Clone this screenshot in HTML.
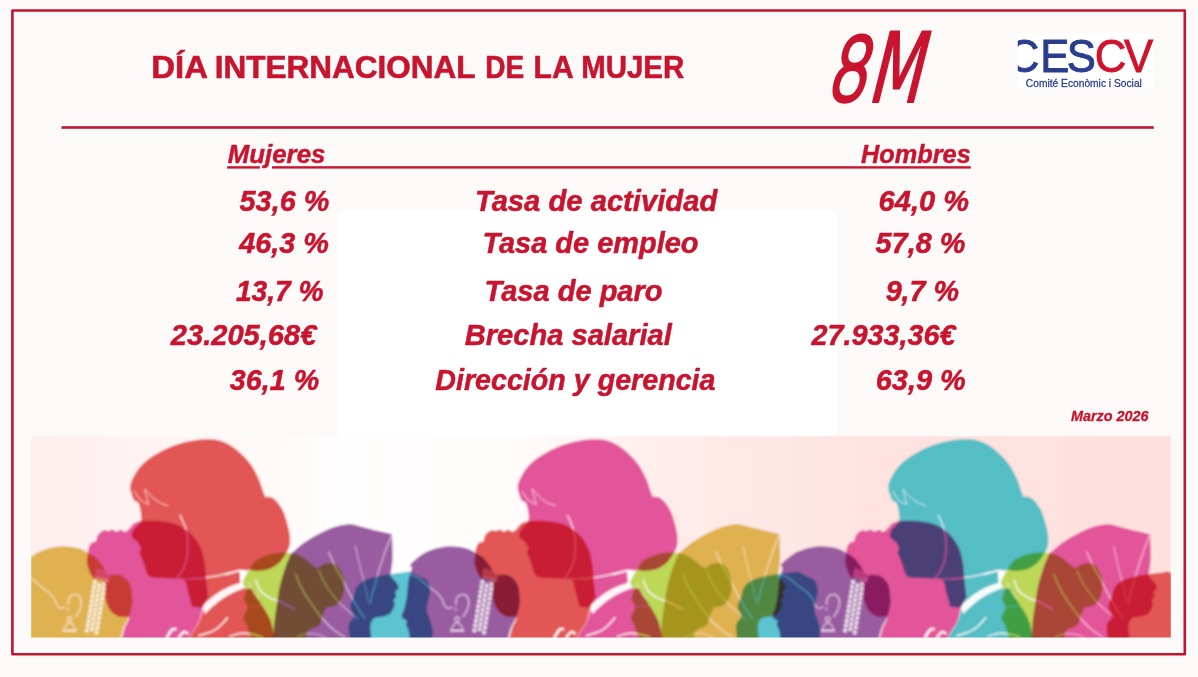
<!DOCTYPE html>
<html lang="es">
<head>
<meta charset="utf-8">
<title>Día Internacional de la Mujer - 8M</title>
<style>
html,body{margin:0;padding:0;background:#fbfaf8;}
body{width:1198px;height:677px;overflow:hidden;}
svg{display:block;}
text{font-family:"Liberation Sans",sans-serif;}
.m{mix-blend-mode:multiply;}
.w{fill:none;stroke:#fff;stroke-linecap:round;stroke-linejoin:round;}
</style>
</head>
<body>
<svg width="1198" height="677" viewBox="0 0 1198 677">
<defs>
<linearGradient id="bgg" gradientUnits="userSpaceOnUse" x1="31.2" y1="0" x2="1170.8" y2="0">
<stop offset="0" stop-color="#ffeeee"/>
<stop offset="0.085" stop-color="#fef2f2"/>
<stop offset="0.218" stop-color="#fffaf9"/>
<stop offset="0.27" stop-color="#fffefe"/>
<stop offset="0.41" stop-color="#fffdfc"/>
<stop offset="0.5" stop-color="#fff4f2"/>
<stop offset="0.56" stop-color="#ffecea"/>
<stop offset="0.675" stop-color="#fee6e3"/>
<stop offset="0.76" stop-color="#fee2e0"/>
<stop offset="1" stop-color="#fee1de"/>
</linearGradient>
<filter id="soft" x="-2%" y="-5%" width="104%" height="110%"><feGaussianBlur stdDeviation="0.85"/></filter>
<clipPath id="ic"><rect x="31.2" y="436.2" width="1139.6" height="201.4"/></clipPath>
</defs>
<rect width="1198" height="677" fill="#fbfaf8"/>
<rect x="337" y="210.5" width="500.3" height="228" rx="7" fill="#ffffff"/>
<rect x="12.4" y="10.5" width="1172.4" height="643.8" fill="none" stroke="#be1733" stroke-width="2.6" stroke-linejoin="round"/>
<rect x="61.5" y="126.2" width="1092.3" height="2.6" fill="#be1733"/>
<rect x="227.2" y="166.2" width="32.6" height="2.4" fill="#c8142f"/><rect x="272" y="166.2" width="698.8" height="2.4" fill="#c8142f"/>
<text y="78.2" font-size="32" font-weight="700" font-style="normal" fill="#c8142f" stroke="#c8142f" stroke-width="0.6" stroke-linejoin="round" xml:space="preserve"><tspan x="151.26" textLength="55.51" lengthAdjust="spacingAndGlyphs">DÍA</tspan> <tspan x="214.71" textLength="260.25" lengthAdjust="spacingAndGlyphs">INTERNACIONAL</tspan> <tspan x="485.24" textLength="38.91" lengthAdjust="spacingAndGlyphs">DE</tspan> <tspan x="533.56" textLength="38.97" lengthAdjust="spacingAndGlyphs">LA</tspan> <tspan x="581.14" textLength="103.06" lengthAdjust="spacingAndGlyphs">MUJER</tspan></text>
<text transform="translate(227.73 163.20) scale(0.9946 1)" font-size="26" font-weight="700" font-style="italic" fill="#c8142f" stroke="#c8142f" stroke-width="0.45" stroke-linejoin="round">Mujeres</text>
<text transform="translate(861.04 163.20) scale(0.9737 1)" font-size="26" font-weight="700" font-style="italic" fill="#c8142f" stroke="#c8142f" stroke-width="0.45" stroke-linejoin="round">Hombres</text>
<text transform="translate(239.61 210.60) scale(0.9602 1)" font-size="30" font-weight="700" font-style="italic" fill="#c8142f" stroke="#c8142f" stroke-width="0.5" stroke-linejoin="round">53,6 %</text>
<text transform="translate(474.88 210.60) scale(0.9738 1)" font-size="30" font-weight="700" font-style="italic" fill="#c8142f" stroke="#c8142f" stroke-width="0.5" stroke-linejoin="round">Tasa de actividad</text>
<text transform="translate(878.62 210.60) scale(0.9677 1)" font-size="30" font-weight="700" font-style="italic" fill="#c8142f" stroke="#c8142f" stroke-width="0.5" stroke-linejoin="round">64,0 %</text>
<text transform="translate(239.13 252.60) scale(0.9600 1)" font-size="30" font-weight="700" font-style="italic" fill="#c8142f" stroke="#c8142f" stroke-width="0.5" stroke-linejoin="round">46,3 %</text>
<text transform="translate(482.40 252.60) scale(0.9657 1)" font-size="30" font-weight="700" font-style="italic" fill="#c8142f" stroke="#c8142f" stroke-width="0.5" stroke-linejoin="round">Tasa de empleo</text>
<text transform="translate(875.51 252.60) scale(0.9635 1)" font-size="30" font-weight="700" font-style="italic" fill="#c8142f" stroke="#c8142f" stroke-width="0.5" stroke-linejoin="round">57,8 %</text>
<text transform="translate(235.88 300.70) scale(0.9400 1)" font-size="30" font-weight="700" font-style="italic" fill="#c8142f" stroke="#c8142f" stroke-width="0.5" stroke-linejoin="round">13,7 %</text>
<text transform="translate(484.49 300.70) scale(0.9686 1)" font-size="30" font-weight="700" font-style="italic" fill="#c8142f" stroke="#c8142f" stroke-width="0.5" stroke-linejoin="round">Tasa de paro</text>
<text transform="translate(885.63 300.70) scale(0.9584 1)" font-size="30" font-weight="700" font-style="italic" fill="#c8142f" stroke="#c8142f" stroke-width="0.5" stroke-linejoin="round">9,7 %</text>
<text transform="translate(170.83 344.90) scale(0.9694 1)" font-size="30" font-weight="700" font-style="italic" fill="#c8142f" stroke="#c8142f" stroke-width="0.5" stroke-linejoin="round">23.205,68€</text>
<text transform="translate(464.66 344.90) scale(0.9710 1)" font-size="30" font-weight="700" font-style="italic" fill="#c8142f" stroke="#c8142f" stroke-width="0.5" stroke-linejoin="round">Brecha salarial</text>
<text transform="translate(811.43 344.90) scale(0.9608 1)" font-size="30" font-weight="700" font-style="italic" fill="#c8142f" stroke="#c8142f" stroke-width="0.5" stroke-linejoin="round">27.933,36€</text>
<text transform="translate(229.81 390.20) scale(0.9570 1)" font-size="30" font-weight="700" font-style="italic" fill="#c8142f" stroke="#c8142f" stroke-width="0.5" stroke-linejoin="round">36,1 %</text>
<text transform="translate(435.27 390.20) scale(0.9551 1)" font-size="30" font-weight="700" font-style="italic" fill="#c8142f" stroke="#c8142f" stroke-width="0.5" stroke-linejoin="round">Dirección y gerencia</text>
<text transform="translate(875.72 390.20) scale(0.9644 1)" font-size="30" font-weight="700" font-style="italic" fill="#c8142f" stroke="#c8142f" stroke-width="0.5" stroke-linejoin="round">63,9 %</text>
<text transform="translate(1070.91 420.80) scale(0.9600 1)" font-size="15" font-weight="700" font-style="italic" fill="#c8142f" stroke="#c8142f" stroke-width="0.3" stroke-linejoin="round">Marzo 2026</text>
<text transform="translate(824.5 102.5) skewX(-14) scale(0.70 1)" stroke-linejoin="round" fill="#c8142f" stroke="#c8142f"><tspan font-family="&quot;DejaVu Sans&quot;, sans-serif" font-weight="200" font-size="86.5" stroke-width="4.9" dy="-2.2" textLength="58.2" lengthAdjust="spacingAndGlyphs">8</tspan><tspan font-family="&quot;DejaVu Sans Condensed&quot;, &quot;DejaVu Sans&quot;, sans-serif" font-weight="400" font-size="96.8" stroke-width="1.9" dx="1.8" dy="1.3">M</tspan></text>
<g>
<rect x="1017.8" y="33.5" width="136.4" height="54.2" fill="#ffffff"/>
<svg x="1017.8" y="33.5" width="136.4" height="54.2" viewBox="1017.8 33.5 136.4 54.2" overflow="hidden">
<text transform="scale(0.93 1)" y="72.0" font-size="47" font-weight="400" stroke-width="0.9"><tspan x="1083.70 1118.65 1147.18" fill="#2a3c8c" stroke="#2a3c8c">CES</tspan><tspan x="1177.14 1208.73" fill="#d0132c" stroke="#d0132c">CV</tspan></text>
<text transform="translate(1025.80 86.70) scale(0.9943 1)" font-size="10.3" font-weight="400" font-style="normal" fill="#2a3c8c" stroke="#2a3c8c" stroke-width="0.25">Comité Econòmic i Social</text>
</svg>
</g>
<g clip-path="url(#ic)">
<g filter="url(#soft)">
<defs>
<g id="sA"><path d="M22.6 642.0C22.3 640.0 21.7 633.0 21.0 630.2C20.3 627.4 18.8 626.7 18.5 625.2C18.2 623.7 20.0 622.4 19.3 621.0C18.6 619.6 14.7 618.9 14.3 616.8C13.9 614.7 16.0 611.8 16.8 608.5C17.6 605.2 18.6 601.5 19.3 596.8C20.0 592.1 20.2 584.8 21.0 580.1C21.8 575.4 24.0 570.9 24.3 568.4C24.6 565.9 21.8 566.7 22.6 565.0C23.4 563.3 26.5 560.6 29.3 558.4C32.1 556.2 35.4 553.5 39.3 551.7C43.2 549.9 48.2 548.4 52.7 547.5C57.2 546.6 61.5 546.2 66.0 546.4C70.5 546.5 75.6 547.2 79.4 548.4C83.2 549.6 86.2 551.8 89.0 553.4C91.8 555.0 93.8 555.8 95.9 557.7C98.0 559.7 99.8 562.4 101.8 565.1C103.8 567.8 104.5 572.3 107.7 574.0C110.9 575.7 117.3 573.7 121.0 575.4C124.7 577.1 128.0 580.3 129.9 584.3C131.8 588.2 132.0 595.1 132.3 599.1C132.6 603.1 132.1 604.9 131.5 608.0C130.9 611.1 129.8 614.5 128.5 617.8C127.2 621.1 124.9 623.8 123.4 627.8C121.9 631.8 120.3 639.6 119.7 642.0Z"/><path class="w" d="M21.5 573.8C22.4 574.2 25.2 575.1 27.0 576.0C28.8 576.9 30.8 577.9 32.5 579.2C34.2 580.5 35.8 582.3 37.5 583.8C39.2 585.3 41.0 586.5 43.0 588.0C45.0 589.5 47.4 590.9 49.3 592.7C51.2 594.5 53.1 596.8 54.4 598.9C55.7 601.0 55.9 603.6 56.9 605.2C57.9 606.8 59.2 608.1 60.6 608.4C62.0 608.7 64.3 607.3 65.0 607.1" stroke-width="1.3" stroke-opacity="0.6"/><path class="w" d="M68.4 604.2C68.6 603.1 68.4 599.3 69.4 597.7C70.4 596.1 72.8 594.8 74.5 594.6C76.2 594.4 78.3 595.0 79.5 596.4C80.7 597.8 81.4 600.4 81.4 602.7C81.4 605.0 80.5 607.9 79.5 610.2C78.5 612.5 76.3 615.5 75.7 616.5" stroke-width="1.5" stroke-opacity="0.6"/><path class="w" d="M68.2 608.2L68.4 610" stroke-width="1.5" stroke-opacity="0.6"/><circle class="w" cx="69.6" cy="619.3" r="2.3" stroke-width="1.3" stroke-opacity="0.6"/><path class="w" d="M69.6 622.4C66.5 624 64.6 627 63.8 630.4H75.6C74.8 627 72.8 624 69.6 622.4Z" stroke-width="1.3" stroke-opacity="0.6"/><path class="w" d="M63.4 630.8H76" stroke-width="2.0" stroke-opacity="0.6"/><path fill="#fff" fill-opacity="0.5" d="M96.5 567.5L111 574.5L109.5 582L94.5 577Z"/><path class="w" d="M94.8 582L86.8 631.5" stroke-width="4.4" stroke-opacity="0.78" stroke-dasharray="0.1 4.8"/><path class="w" d="M99.6 583L91.6 632.5" stroke-width="4.4" stroke-opacity="0.78" stroke-dasharray="0.1 4.8" stroke-dashoffset="2.4"/><path class="w" d="M104.4 584L96.4 633.5" stroke-width="4.4" stroke-opacity="0.78" stroke-dasharray="0.1 4.8"/></g>
<g id="sB"><path d="M121.0 642.0C121.6 639.8 123.2 632.7 124.5 628.6C125.8 624.5 129.8 619.5 129.0 617.5C128.2 615.5 122.5 617.9 119.5 616.8C116.5 615.7 113.0 613.8 110.7 610.9C108.4 608.0 106.5 603.8 105.5 599.1C104.5 594.4 106.6 586.1 104.8 582.8C103.0 579.5 96.9 580.8 94.4 579.1C91.9 577.4 91.2 575.1 90.0 572.5C88.8 569.9 87.4 566.6 87.0 563.6C86.6 560.6 87.3 557.4 87.6 554.8C87.9 552.2 88.0 550.0 88.6 548.0C89.2 546.0 90.1 544.0 91.3 542.9C92.5 541.8 94.8 542.3 95.8 541.2C96.8 540.1 96.4 537.7 97.2 536.2C98.0 534.7 99.3 533.2 100.5 532.2C101.7 531.2 103.2 530.5 104.5 530.3C105.8 530.1 107.2 531.1 108.5 531.0C109.8 530.9 110.7 529.3 112.0 529.4C113.3 529.5 114.8 531.5 116.2 531.6C117.6 531.7 119.2 529.8 120.6 529.8C122.0 529.8 123.6 531.8 124.8 531.8C126.0 531.8 127.0 530.8 128.0 530.0C128.9 529.2 129.5 528.3 130.5 527.2C131.5 526.1 132.2 524.4 134.0 523.4C135.8 522.4 138.3 521.6 141.0 521.2C143.7 520.8 146.4 520.8 150.0 520.8C153.6 520.8 158.5 520.9 162.7 521.4C166.9 521.9 171.4 522.7 175.2 524.0C178.9 525.3 182.3 527.2 185.2 529.2C188.1 531.2 190.7 533.7 192.8 536.0C194.9 538.3 196.3 540.4 197.8 542.8C199.3 545.2 200.6 547.4 201.6 550.3C202.6 553.2 203.4 556.7 204.1 560.0C204.8 563.3 205.1 566.2 205.5 570.0C205.9 573.8 206.0 578.5 206.5 583.0C207.0 587.5 208.0 594.7 208.3 597.0L208.3 597.0C207.4 598.7 204.6 603.2 203.0 607.3C201.4 611.4 200.7 617.4 199.0 621.4C197.3 625.4 195.0 627.6 193.0 631.0C191.0 634.4 188.0 640.2 187.0 642.0Z"/><path class="w" d="M96 578.5L108.5 581.5" stroke-width="3.4" stroke-opacity="0.5" stroke-dasharray="0.1 3.4"/><path class="w" d="M167.2 637.0C168.0 635.8 170.5 631.0 171.9 629.7C173.3 628.4 174.8 629.2 175.4 629.1" stroke-width="2.6" stroke-opacity="0.95"/><path class="w" d="M179.0 637.0C179.8 636.2 182.3 632.6 183.7 632.0C185.1 631.4 186.7 633.1 187.3 633.3" stroke-width="2.4" stroke-opacity="0.95"/></g>
<g id="sC"><path d="M134.3 501.0C133.9 500.0 132.5 497.5 131.8 495.1C131.1 492.7 130.0 489.6 130.2 486.8C130.3 484.0 131.0 481.8 132.7 478.4C134.4 475.0 137.0 470.3 140.2 466.7C143.4 463.1 147.4 459.8 151.9 456.7C156.4 453.6 161.6 450.8 166.9 448.4C172.2 446.0 178.0 444.0 183.6 442.5C189.2 441.0 195.1 440.0 200.3 439.5C205.5 439.0 210.9 439.0 215.0 439.5C219.1 440.0 221.7 441.0 225.0 442.5C228.3 444.0 231.7 445.9 235.0 448.4C238.3 450.9 241.9 454.2 245.0 457.5C248.1 460.8 251.0 464.6 253.4 468.4C255.8 472.2 257.7 476.5 259.2 480.1C260.7 483.7 261.6 487.3 262.6 490.1C263.6 492.9 264.7 495.7 265.1 496.8L265.1 496.8C266.2 496.9 269.6 496.5 271.8 497.6C274.0 498.7 276.4 501.1 278.4 503.5C280.3 505.9 282.1 508.8 283.5 511.8C284.9 514.9 285.8 518.5 286.8 521.8C287.8 525.1 288.8 528.8 289.3 531.8C289.9 534.8 290.1 537.5 290.1 540.0C290.1 542.5 290.1 544.2 289.3 546.7C288.5 549.2 286.9 552.2 285.1 555.0C283.3 557.8 281.2 561.0 278.4 563.4C275.6 565.8 272.0 568.0 268.4 569.2C264.8 570.5 260.0 570.9 256.7 570.9C253.4 570.9 249.8 569.5 248.4 569.2L248.4 569.2C249.0 572.4 250.2 583.3 251.9 588.4C253.6 593.5 255.5 594.7 258.6 600.0C261.7 605.3 267.5 613.0 270.3 620.0C273.1 627.0 274.5 638.3 275.3 642.0L187.5 642.0C188.5 640.2 191.5 634.4 193.5 631.0C195.5 627.6 197.8 625.3 199.5 621.4C201.2 617.5 202.8 609.8 203.5 607.5L192.3 607.0C191.6 604.5 189.2 596.3 188.0 592.0C186.8 587.7 186.6 583.2 185.0 581.0C183.4 578.8 179.5 579.2 178.4 578.8L178.4 578.8C174.2 578.6 158.2 578.5 153.0 577.6C147.8 576.7 148.6 575.5 147.2 573.6C145.8 571.7 145.5 568.5 144.6 566.0C143.7 563.5 142.8 560.7 142.0 558.5C141.2 556.3 139.8 554.8 139.6 553.0C139.4 551.2 141.0 549.7 140.8 548.0C140.6 546.3 139.4 544.4 138.3 543.0C137.2 541.6 135.6 540.7 134.5 539.6C133.4 538.5 132.1 538.0 131.8 536.5C131.6 535.0 131.7 532.8 133.0 530.5C134.3 528.2 138.4 524.9 139.8 522.5C141.2 520.1 141.4 519.2 141.2 516.0C141.0 512.8 139.8 506.0 138.6 503.5C137.4 501.0 135.0 501.4 134.3 501.0Z"/><path class="w" d="M134.6 491.5L140.1 500.1L148.6 504.3L144.7 489.2L153.9 498.8Q160 503.6 167.7 505.8" stroke-width="0.8" stroke-opacity="0.85" stroke-linejoin="miter"/><path class="w" d="M180.2 515.2C180.8 516.7 182.9 521.3 184.0 524.0C185.1 526.7 185.9 528.8 186.5 531.5C187.1 534.2 187.6 537.2 187.8 540.3C188.0 543.4 188.0 547.0 187.8 550.3C187.6 553.6 187.3 556.8 186.5 560.0C185.7 563.2 184.6 566.4 183.0 569.5C181.4 572.6 177.8 577.1 176.8 578.6" stroke-width="1.3" stroke-opacity="0.8"/><path class="w" d="M178.0 579.3C180.0 579.2 186.2 579.2 190.0 579.0C193.8 578.8 196.1 578.9 201.0 578.3C205.9 577.7 214.7 576.2 219.5 575.3C224.3 574.4 228.2 573.4 230.0 573.0" stroke-width="1.2" stroke-opacity="0.9"/><path class="w" d="M226.0 574.0C227.2 573.7 230.8 572.9 233.0 572.3C235.2 571.7 238.4 570.9 239.5 570.6" stroke-width="1.9" stroke-opacity="0.95"/><path fill="#fff" fill-opacity="0.95" d="M201.8 606.8C208 599.8 216 593.6 223.2 589.7C230 586.1 236 583.9 242 582.2L243.5 588.6C237 590.6 230 594 223.5 598C216.5 602.5 210 608.5 205.2 614Z"/><path fill="#fff" d="M239.5 569.8L252.6 571L253 588.6L246 588.8L240.5 586Z"/><path class="w" d="M199.0 635.6C201.4 634.8 209.6 632.7 213.3 630.9C217.0 629.1 218.7 627.2 221.0 625.0C223.3 622.8 226.3 619.1 227.4 617.9" stroke-width="1.6" stroke-opacity="0.9"/><path class="w" d="M229.8 636.4C231.8 635.9 237.7 633.6 241.6 633.3C245.5 633.0 250.0 633.8 253.4 634.4C256.8 635.0 260.6 636.6 262.0 637.0" stroke-width="1.5" stroke-opacity="0.9"/></g>
<g id="sE"><path d="M252.2 642.0C251.6 640.1 249.7 633.9 248.7 630.9C247.7 627.9 247.2 626.0 246.3 623.8C245.4 621.6 243.2 620.6 243.4 617.9C243.6 615.1 247.4 610.4 247.5 607.3C247.6 604.1 244.2 602.0 244.0 599.0C243.8 596.0 246.5 592.3 246.3 589.5C246.1 586.7 242.2 585.5 242.8 582.0C243.4 578.5 247.8 572.1 250.1 568.4C252.4 564.7 253.4 562.4 256.7 560.0C260.0 557.6 265.9 555.5 270.1 554.2C274.3 553.0 278.5 552.7 281.8 552.5C285.1 552.3 287.2 552.6 290.0 553.0C292.8 553.4 296.1 554.1 298.5 555.0C300.9 555.9 302.7 557.3 304.6 558.6C306.5 559.9 308.1 561.5 310.0 563.0C311.9 564.5 314.1 566.7 315.7 567.4C317.3 568.1 318.9 567.2 319.5 567.2L319.5 567.2C320.0 566.8 321.2 565.4 322.5 564.8C323.8 564.1 325.4 563.5 327.0 563.3C328.6 563.0 330.1 562.9 331.8 563.3C333.5 563.7 335.5 564.2 337.0 565.5C338.5 566.8 339.9 568.9 341.0 571.0C342.1 573.1 343.0 575.6 343.5 578.4C344.0 581.2 344.4 585.1 344.2 588.0C344.0 590.9 343.5 593.5 342.5 596.0C341.5 598.5 340.1 601.5 338.4 603.2C336.7 605.0 334.5 605.8 332.5 606.5C330.5 607.2 327.4 607.1 326.4 607.2L326.4 607.2C326.0 608.1 324.6 610.5 323.8 612.5C323.0 614.5 322.2 617.0 321.5 619.0C320.8 621.0 320.9 623.1 319.8 624.5C318.7 625.9 316.3 626.8 315.0 627.5C313.7 628.2 313.1 627.8 311.8 628.5C310.6 629.2 308.6 629.8 307.5 632.0C306.4 634.2 305.6 640.3 305.2 642.0Z"/><path class="w" d="M246.6 607.5C247.8 607.3 251.5 606.5 254.0 606.3C256.5 606.1 260.4 606.1 261.7 606.1" stroke-width="1.1" stroke-opacity="0.55"/><path class="w" d="M255.8 580.1C256.6 581.9 258.1 587.8 260.5 590.7C262.9 593.7 266.6 595.9 270.0 597.8C273.4 599.7 276.9 600.1 281.0 602.0C285.1 603.9 292.3 608.0 294.6 609.2" stroke-width="1.5" stroke-opacity="0.85"/><path class="w" d="M249.0 583.0C249.7 584.5 251.4 589.4 253.0 592.0C254.6 594.6 257.6 597.4 258.5 598.5" stroke-width="1.2" stroke-opacity="0.6"/></g>
<g id="sF"><path d="M273.4 642.0C273.5 638.9 273.7 629.6 274.3 623.5C274.9 617.4 275.8 611.5 276.8 605.1C277.8 598.7 278.7 591.2 280.1 585.1C281.5 579.0 283.4 573.4 285.1 568.4C286.8 563.4 288.8 558.0 290.5 555.0C292.2 552.0 292.9 552.2 295.1 550.2C297.4 548.2 300.1 545.5 304.0 542.8C307.9 540.1 313.8 536.6 318.7 534.0C323.6 531.4 329.4 528.8 333.5 527.3C337.6 525.8 340.1 525.5 343.0 525.0C345.9 524.5 347.5 523.8 351.2 524.3C354.9 524.8 360.2 526.5 365.3 527.7C370.4 529.0 377.4 530.7 381.9 531.8C386.3 532.9 390.3 533.9 392.0 534.3L392.0 534.3C392.1 536.4 392.3 542.6 392.4 546.7C392.5 550.8 392.7 555.1 392.5 559.0C392.3 562.9 391.7 567.3 391.3 570.0C390.9 572.7 390.1 573.6 390.3 575.0C390.5 576.4 391.5 577.2 392.6 578.6C393.7 580.0 396.0 581.8 397.0 583.4C398.0 585.0 398.9 587.0 398.6 588.4C398.3 589.8 395.7 590.4 395.3 591.8C394.9 593.2 396.4 595.4 396.1 596.8C395.8 598.2 393.9 598.7 393.6 600.1C393.3 601.5 395.1 602.9 394.5 605.1C393.9 607.3 392.4 611.5 390.3 613.5C388.2 615.5 384.7 616.0 381.9 616.8C379.1 617.6 375.5 616.8 373.6 618.5C371.7 620.2 370.6 622.9 370.3 626.8C370.0 630.7 371.6 639.5 371.9 642.0Z"/><path class="w" d="M328.7 552.0C329.8 554.5 332.9 562.1 335.2 566.7C337.5 571.3 340.1 575.1 342.6 579.7C345.1 584.3 347.5 589.8 350.0 594.4C352.5 599.0 354.9 603.4 357.4 607.4C359.9 611.4 363.6 616.6 364.8 618.5" stroke-width="1.2" stroke-opacity="0.62"/><path class="w" d="M355.5 546.4C356.1 549.2 358.0 557.8 359.2 563.0C360.4 568.2 361.8 573.5 362.9 577.8C364.0 582.1 364.8 584.9 365.7 588.9C366.6 592.9 368.0 599.6 368.5 601.8" stroke-width="1.1" stroke-opacity="0.5"/><path class="w" d="M391.5 535.3C390.4 538.1 387.1 546.5 385.1 552.0C383.1 557.5 381.1 563.7 379.5 568.6C377.9 573.5 377.0 577.2 375.8 581.5C374.6 585.8 373.0 590.7 372.1 594.4C371.2 598.1 370.6 602.2 370.3 603.7" stroke-width="1.2" stroke-opacity="0.6"/><path class="w" d="M295.5 574.1C296.6 576.6 299.4 584.0 302.0 588.9C304.6 593.8 307.8 598.8 311.2 603.7C314.6 608.6 318.6 614.2 322.3 618.5C326.0 622.8 329.7 626.4 333.4 629.5C337.1 632.6 342.6 635.8 344.4 637.0" stroke-width="1.2" stroke-opacity="0.6"/><path class="w" d="M318.6 570.4C319.8 572.9 323.2 580.6 326.0 585.2C328.8 589.8 331.8 594.1 335.2 598.1C338.6 602.1 342.6 605.8 346.3 609.2C350.0 612.6 355.5 617.0 357.4 618.5" stroke-width="1.1" stroke-opacity="0.55"/><path class="w" d="M297.0 637.5C298.5 636.9 302.5 634.1 306.0 633.6C309.5 633.1 314.7 633.9 318.0 634.5C321.3 635.1 324.7 637.0 326.0 637.5" stroke-width="1.1" stroke-opacity="0.55"/></g>
<g id="sH"><path d="M350.2 642.0C349.9 639.2 348.0 629.4 348.6 625.2C349.2 621.0 353.3 619.9 353.6 616.8C353.9 613.7 350.2 610.1 350.2 606.8C350.2 603.5 352.5 600.1 353.6 596.8C354.7 593.5 354.9 589.6 356.9 586.8C358.8 584.0 362.2 581.8 365.3 580.1C368.4 578.4 371.4 577.7 375.3 576.7C379.2 575.7 385.3 574.8 388.6 574.2C391.9 573.7 392.8 573.7 395.3 573.4C397.8 573.1 401.1 572.9 403.6 572.6C406.1 572.3 407.4 571.0 410.1 571.7C412.9 572.4 417.3 575.3 420.1 576.7C422.9 578.1 425.1 577.9 426.8 580.1C428.5 582.3 429.9 586.8 430.2 590.1C430.5 593.4 429.1 596.8 428.5 600.1C427.9 603.4 426.5 606.8 426.8 610.1C427.1 613.5 429.2 616.9 430.2 620.2C431.2 623.6 432.4 626.6 432.7 630.2C433.0 633.8 431.9 640.0 431.8 642.0Z"/></g>
</defs>
<g style="isolation:isolate">
<rect x="25.2" y="430.2" width="1151.6" height="213.4" fill="url(#bgg)"/>
<g transform="translate(0.0 0)" fill="#fff"><use href="#sA"/><use href="#sB"/><use href="#sC"/><use href="#sE"/><use href="#sF"/><use href="#sH"/></g>
<g transform="translate(387.5 0)" fill="#fff"><use href="#sA"/><use href="#sB"/><use href="#sC"/><use href="#sE"/><use href="#sF"/><use href="#sH"/></g>
<g transform="translate(758.2 0)" fill="#fff"><use href="#sA"/><use href="#sB"/><use href="#sC"/><use href="#sE"/><use href="#sF"/><use href="#sH"/></g>
<g transform="translate(0.0 0)">
<g class="m"><use href="#sA" fill="#e0b150"/></g>
<g class="m"><use href="#sB" fill="#e3549a"/></g>
<g class="m"><use href="#sC" fill="#e25655"/></g>
<g class="m"><use href="#sE" fill="#bdd756"/></g>
<g class="m"><use href="#sF" fill="#9a5ca0"/></g>
<g class="m"><use href="#sH" fill="#5cc3d0"/></g>
</g>
<g transform="translate(387.5 0)">
<g class="m"><use href="#sA" fill="#9a5ca0"/></g>
<g class="m"><use href="#sB" fill="#e25655"/></g>
<g class="m"><use href="#sC" fill="#e3549a"/></g>
<g class="m"><use href="#sE" fill="#bdd756"/></g>
<g class="m"><use href="#sF" fill="#e0b150"/></g>
<g class="m"><use href="#sH" fill="#5cc3d0"/></g>
</g>
<g transform="translate(758.2 0)">
<g class="m"><use href="#sA" fill="#9a5ca0"/></g>
<g class="m"><use href="#sB" fill="#e3549a"/></g>
<g class="m"><use href="#sC" fill="#54bdc4"/></g>
<g class="m"><use href="#sE" fill="#bdd756"/></g>
<g class="m"><use href="#sF" fill="#e3549a"/></g>
<g class="m"><use href="#sH" fill="#e25655"/></g>
</g>
</g>
</g>
</g>
</svg>
</body>
</html>
